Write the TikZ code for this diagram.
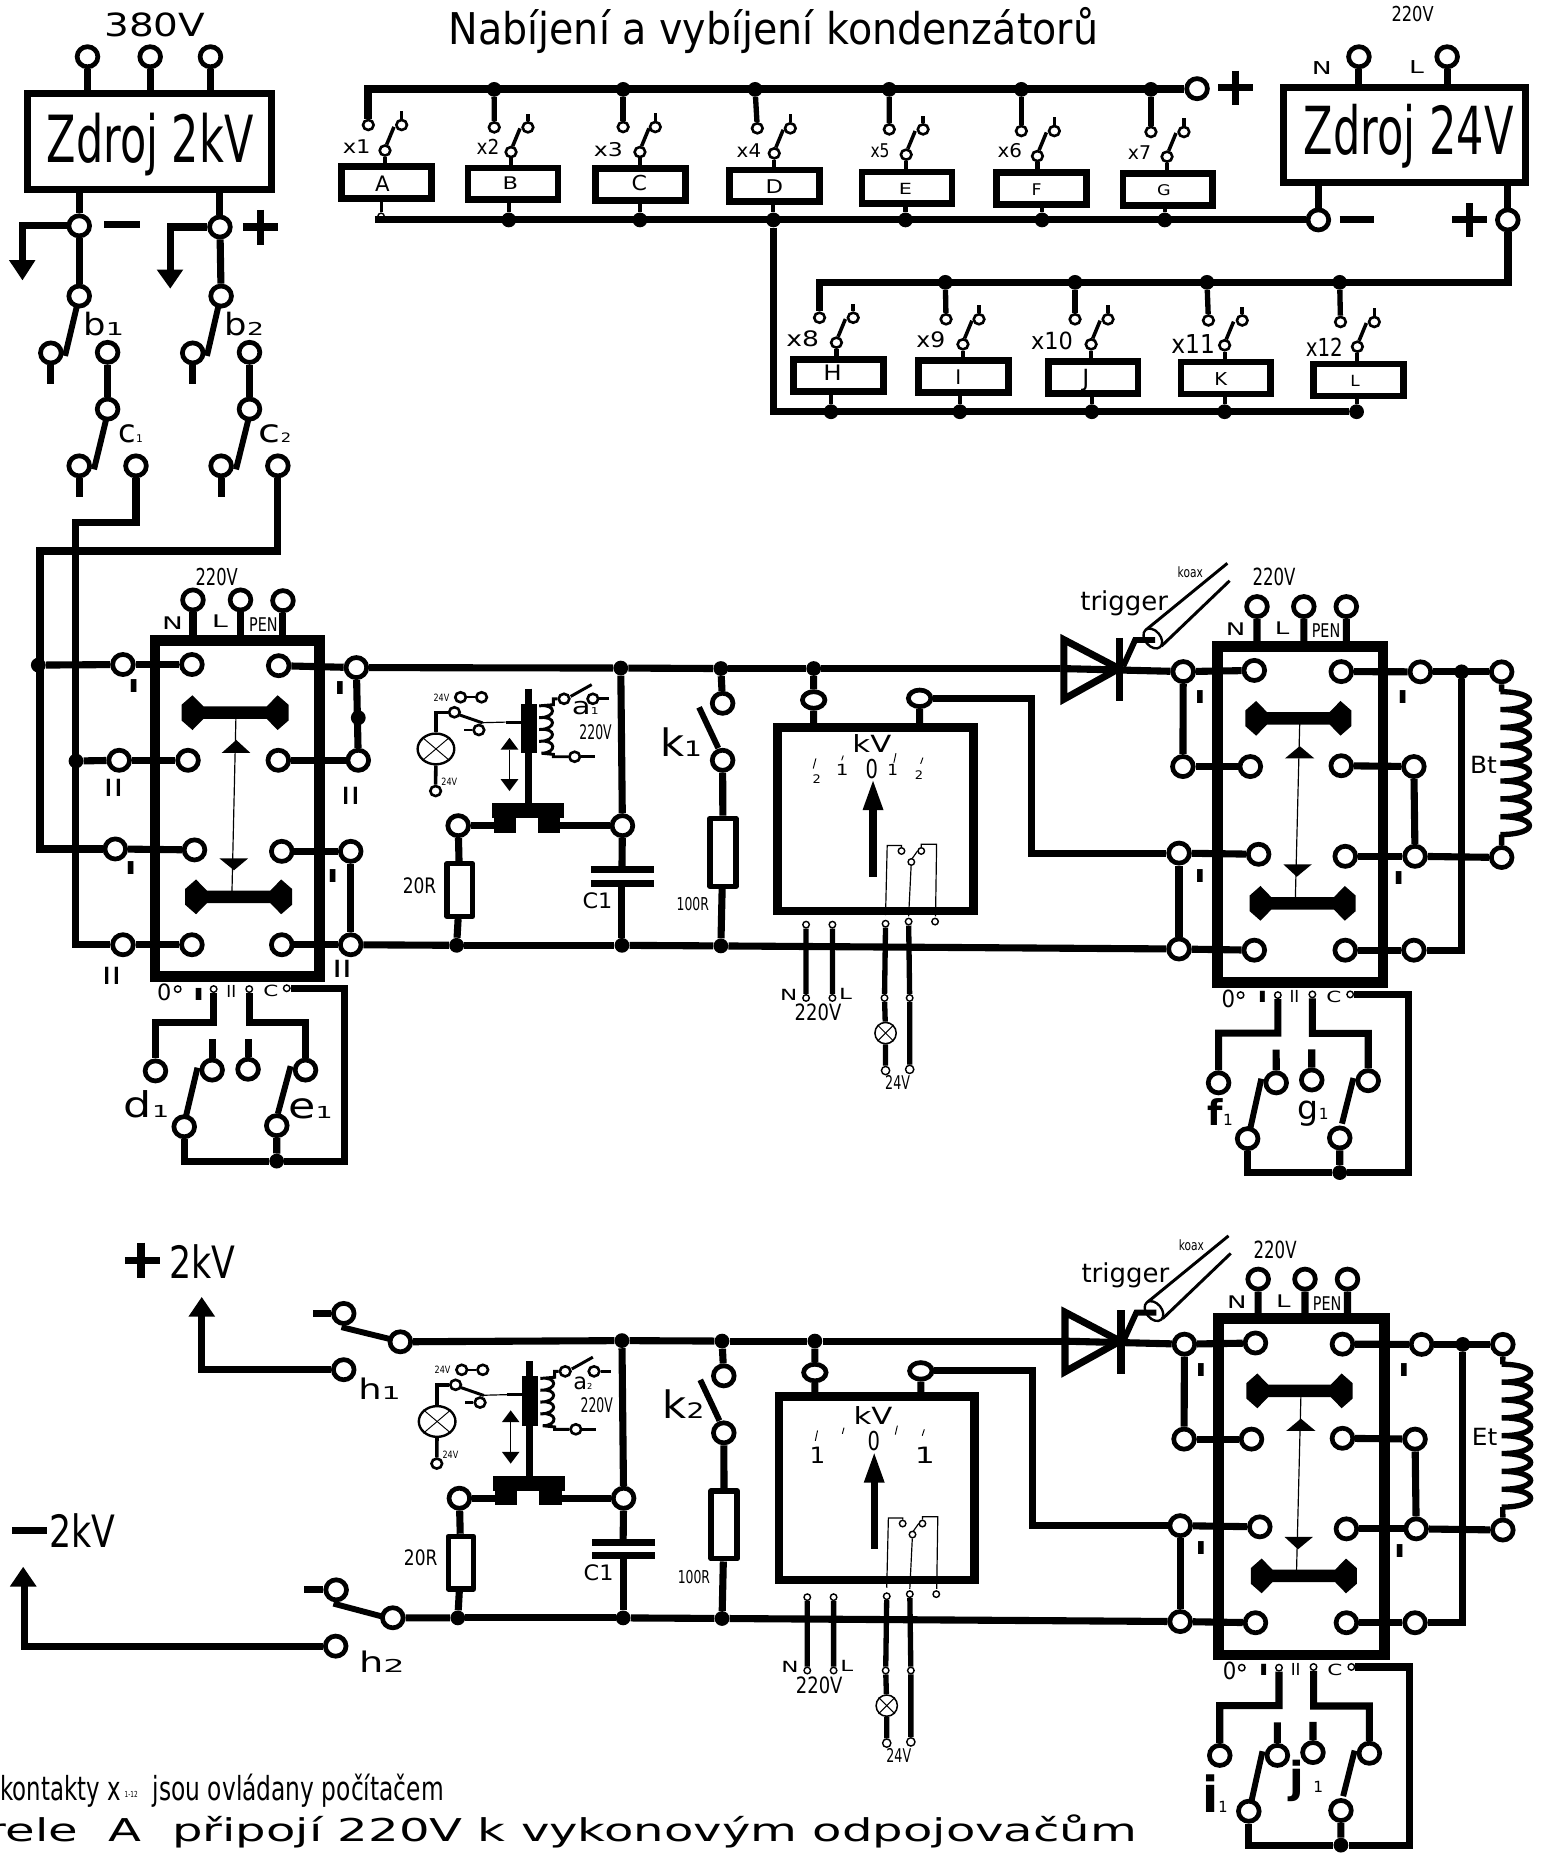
\documentclass[tikz,border=0pt]{standalone}
\usepackage{fontspec}
\setmainfont{DejaVu Sans}
\usepackage{graphicx}
\usetikzlibrary{shapes.geometric}
\newcounter{lb}
\tikzset{
 term/.style={ellipse,draw,fill=white,line width=4pt,inner sep=0pt,minimum width=17.5pt,minimum height=17pt},
 tsm/.style={term,line width=2.2pt,minimum width=9pt,minimum height=8.5pt},
 tiny/.style={term,line width=1.2pt,minimum width=5.5pt,minimum height=5.5pt},
 jdot/.style={circle,fill=black,inner sep=0pt,minimum size=12.5pt},
 wire/.style={line width=6pt},
 wthin/.style={line width=4.5pt},
 wfine/.style={line width=1pt},
 lever/.style={line width=5pt},
 fbox/.style={rectangle,draw,line width=9pt,inner sep=0pt},
 rbox/.style={rectangle,draw,line width=5.7pt,inner sep=0pt,minimum width=76pt,minimum height=27pt},
 rst/.style={rectangle,draw,fill=white,line width=4.5pt,inner sep=0pt,line join=round},
 lamp/.style={ellipse,draw,fill=white,line width=2pt,inner sep=0pt},
 txt/.style={anchor=base,inner sep=0pt},
}
\newcommand\lbl[5]{\stepcounter{lb}\node[txt] (lb\thelb) at (#1,#2) {\fontsize{#3}{#3}\selectfont\scalebox{#4}[1]{#5}};}
\newcommand\low[3]{{\fontsize{#1}{#1}\selectfont\scalebox{#2}[1]{#3}}}
\newcommand\cbar[2]{\fill[shift={(#1,#2)}] (-26.8,-5.3)--(-36,-14.7)--(-45.3,-6.6)--(-45.3,6.6)--(-36,14.7)--(-26.8,5.3)--(26.8,5.3)--(36,14.7)--(45.3,6.6)--(45.3,-6.6)--(36,-14.7)--(26.8,-5.3)--cycle;}
\newcommand\hump[1]{.. controls (1309,#1) and (1309,#1+15.1) .. (1276,#1+15.1)}
\newcommand\stage[5]{%
\begin{scope}[shift={(#2,#3)}]
 \node[term] (#1rT) at (526.4,698.3) {};
 \node[term] (#1rL) at (387.5,698.3) {};
 \node[jdot] (#1dC) at (525,565) {};
 \node[jdot] (#1dCb) at (526,799.5) {};
 \node[jdot] (#1dR) at (386.2,799.5) {};
 \coordinate (#1cL) at (420,698.3);
 \coordinate (#1cR) at (472,698.3);
 \draw[wire] (#1rL) -- (#1cL);
 \draw[wire] (#1cR) -- (#1rT);
 \draw[wire] (#1dC) -- (#1rT);
 \fill (416.3,679.3) rectangle (477.2,692);
 \fill (418,692) rectangle (436.4,704.4);
 \fill (455,692) rectangle (474,704.4);
 \draw[line width=6pt] (447,582.3) -- (447,679.3);
 \fill (440.6,595) rectangle (454.2,636.8);
 \node[tsm] (#1ta) at (477,591) {};
 \node[tsm] (#1tb) at (486,640) {};
 \node[tsm] (#1tc) at (501.4,591) {};
 \draw[line width=2.5pt] (#1ta) -- (468,591) -- (468,596) -- (456,597)
   .. controls (471,595) and (471,607) .. (456,607)
   .. controls (471,605) and (471,617) .. (456,617)
   .. controls (471,615) and (471,627) .. (456,627)
   .. controls (471,625) and (471,637) .. (458,637) -- (468,638) -- (468,640) -- (#1tb);
 \draw[line width=2.5pt] (482.6,589) -- (500.4,579);
 \draw[line width=2.5pt] (#1tc) -- ++(14,0);
 \draw[line width=2.5pt] (#1tb) -- ++(17,0);
 \lbl{503.7}{625.8}{17}{.62}{220V}
 \node[tsm] (#1u1) at (389.5,589.7) {};
 \node[tsm] (#1u2) at (407.3,589.7) {};
 \draw[line width=2pt] (#1u1) -- (#1u2);
 \lbl{373.3}{593}{8.5}{.8}{24V}
 \node[tsm] (#1u3) at (384.3,602.4) {};
 \node[tsm] (#1u4) at (405,617.4) {};
 \draw[line width=2.5pt] (#1u4) -- ++(-12.5,0);
 \draw[line width=2.5pt] (388.8,604.7) -- (408.2,611.4);
 \draw[line width=1pt] (408.2,611.2) -- (427.6,610.7);
 \draw[line width=2.5pt] (427.6,610.7) -- (440.6,610.7);
 \node[lamp,minimum width=31pt,minimum height=26pt] (#1lamp) at (368.7,633.4) {};
 \draw[line width=.8pt] (#1lamp.north west) -- (#1lamp.south east);
 \draw[line width=.8pt] (#1lamp.south west) -- (#1lamp.north east);
 \draw[line width=3pt] (#1u3) -| (#1lamp);
 \node[tsm] (#1u5) at (368.4,669) {};
 \draw[line width=3pt] (#1lamp) -- (#1u5);
 \lbl{380}{664.5}{8.5}{.8}{24V}
 \draw[line width=1.2pt] (430.9,634) -- (430.9,659);
 \fill (430.9,624) -- (423.4,634) -- (438.4,634) -- cycle;
 \fill (430.9,669) -- (423.4,659) -- (438.4,659) -- cycle;
 \node[rst,minimum width=21.5pt,minimum height=44.5pt] (#1R) at (388.8,752.8) {};
 \draw[wire] (#1rL) -- (#1R);
 \draw[wire] (#1R) -- (#1dR);
 \lbl{354.8}{755.5}{18}{.8}{20R}
 \draw[line width=6pt] (499.8,735.5) -- (553.2,735.5);
 \draw[line width=6pt] (499.8,747) -- (553.2,747);
 \draw[wire] (#1rT) -- (526,735.5);
 \draw[wire] (526,747) -- (#1dCb);
 \lbl{505.3}{768}{18}{1.05}{C1}
 \draw[wire] (#1dR) -- (#1dCb);
 \begin{scope}[xshift=5.75pt,xscale=.99]
  \node[jdot] (#1dK) at (610,565.4) {};
  \node[jdot] (#1dM) at (689.3,565.4) {};
  \node[jdot] (#1dKb) at (610,800) {};
  \node[term] (#1k1) at (611.5,594.8) {};
  \node[term] (#1k2) at (611.5,643) {};
  \draw[wire] (#1dK) -- (#1k1);
  \draw[lever] (591.4,598.2) -- (607.8,632.7);
  \node[rst,minimum width=22pt,minimum height=57.5pt] (#1Rk) at (611.8,720.8) {};
  \draw[wire] (#1k2) -- (#1Rk);
  \draw[wire] (#1Rk) -- (#1dKb);
  \lbl{586}{770}{15}{.7}{100R}
  \draw[wire] (#1dC) -- (#1dK);
  \draw[wire] (#1dK) -- (#1dM);
  \draw[wire] (#1dCb) -- (#1dKb);
  % meter
  \node[rectangle,draw,line width=7.5pt,minimum width=165.5pt,minimum height=155pt,inner sep=0pt] (#1M) at (742.2,693+#4) {};
  \node[term,minimum width=19pt,minimum height=14pt] (#1m1) at (689.3,592) {};
  \node[term,minimum width=19pt,minimum height=14pt] (#1m2) at (779.8,590.6) {};
  \draw[wire] (#1dM) -- (#1m1);
  \draw[wire] (#1m1) -- (#1m1 |- #1M.north);
  \draw[wire] (#1m2) -- (#1m2 |- #1M.north);
  \lbl{739}{636.2}{20}{1.3}{kV}
  \fill (740,660.4) -- (731,685.2) -- (749,685.2) -- cycle;
  \draw[line width=6pt] (740,683) -- (740,741.5);
  \node[tiny] (#1i1) at (764.3,719.7) {};
  \node[tiny] (#1i2) at (781.2,719.7) {};
  \node[tiny] (#1i3) at (772.7,729) {};
  \draw[wfine] (#1i1) |- (752.1,715) -- (750.7,774);
  \draw[wfine] (#1i2) |- (794.3,714) -- (793.4,775);
  \draw[wfine] (#1i3) -- (770.4,775);
  \draw[wfine] (773.5,726) -- (778,719.7);
  \node[tiny] (#1b1) at (682.8,782) {};
  \node[tiny] (#1b2) at (705.3,782) {};
  \node[tiny] (#1b3) at (750.7,781.2) {};
  \node[tiny] (#1b4) at (770.4,779.4) {};
  \node[tiny] (#1b5) at (793,779.4) {};
  \node[tiny] (#1c1) at (682.8,844) {};
  \node[tiny] (#1c2) at (705.3,844) {};
  \node[tiny] (#1c3) at (749.8,844) {};
  \node[tiny] (#1c4) at (771.3,844) {};
  \draw[wthin] (#1b1) -- (#1c1);
  \draw[wthin] (#1b2) -- (#1c2);
  \draw[wthin] (#1b3) -- (#1c3);
  \draw[wthin] (#1b4) -- (#1c4);
  \node[lamp,line width=1.3pt,minimum width=18pt,minimum height=18pt] (#1l2) at (750.7,873.7) {};
  \draw[line width=.8pt] (#1l2.north west) -- (#1l2.south east);
  \draw[line width=.8pt] (#1l2.south west) -- (#1l2.north east);
  \node[tiny,minimum width=7pt,minimum height=7pt] (#1c5) at (750.7,905.4) {};
  \node[tiny,minimum width=7pt,minimum height=7pt] (#1c6) at (771.3,904.4) {};
  \draw[wthin] (#1c3) -- (#1l2);
  \draw[wthin] (#1l2) -- (#1c5);
  \draw[wthin] (#1c4) -- (#1c6);
  \lbl{668}{846}{13}{1.5}{N}
  \lbl{716.5}{845}{13}{1.5}{L}
  \lbl{693}{863.3}{19}{.8}{220V}
  \lbl{761}{921.7}{16}{.67}{24V}
  % thyristor
  \draw[line width=6pt,line join=miter] (903,541) -- (903,591.3) -- (950,565.4) -- cycle;
  \draw[line width=6pt] (950.8,539.5) -- (950.8,593);
  \coordinate (#1an) at (900,565.4);
  \draw[wire] (#1dM) -- (#1an);
  \draw[line width=2.5pt] (973.3,532.6) -- (1042.7,476.4);
  \draw[line width=2.5pt] (986.4,546.4) -- (1044.6,491.2);
  \node[ellipse,draw,fill=white,line width=2pt,rotate=40,minimum width=13pt,minimum height=19pt,inner sep=0pt] (#1cx) at (979,540) {};
  \draw[line width=5pt] (953.6,563.7) -- (963.9,541.3) -- (981,541.3);
  \lbl{954.6}{516}{22}{1}{trigger}
  \lbl{1011}{488.5}{12}{.75}{koax}
  \lbl{1082.5}{495.4}{20}{.7}{220V}
  % right switch
  \node[fbox,minimum width=140pt,minimum height=284.5pt] (#1S) at (1105,688.75) {};
  \node[term] (#1s1) at (1065.7,567) {};
  \node[term] (#1s2) at (1140,568) {};
  \node[term] (#1s3) at (1062.3,648.3) {};
  \node[term] (#1s4) at (1140,647.6) {};
  \node[term] (#1s5) at (1069.4,722.5) {};
  \node[term] (#1s6) at (1143.4,724.2) {};
  \node[term] (#1s7) at (1065.7,803.6) {};
  \node[term] (#1s8) at (1143.4,803.6) {};
  \node[term] (#1o1) at (1005,568) {};
  \node[term] (#1o2) at (1004.7,648.3) {};
  \node[term] (#1o3) at (1001.4,721.5) {};
  \node[term] (#1o4) at (1001.4,802.6) {};
  \node[term] (#1p1) at (1207.6,568.2) {};
  \node[term] (#1p2) at (1202,648.3) {};
  \node[term] (#1p3) at (1203,724.2) {};
  \node[term] (#1p4) at (1202,803.6) {};
  \node[term] (#1q1) at (1277,568.2) {};
  \node[term] (#1q2) at (1277,725.2) {};
  \node[jdot] (#1dQ) at (1242.8,568.2) {};
  \draw[wire] (#1an) -- (#1o1);
  \draw[wire] (#1o1) -- (#1s1);
  \draw[wire] (#1o2) -- (#1s3);
  \draw[wire] (#1o3) -- (#1s5);
  \draw[wire] (#1o4) -- (#1s7);
  \draw[wire] (#1s2) -- (#1p1);
  \draw[wire] (#1s4) -- (#1p2);
  \draw[wire] (#1s6) -- (#1p3);
  \draw[wire] (#1s8) -- (#1p4);
  \draw[wire] (#1o1) -- (#1o2);
  \draw[wire] (#1o3) -- (#1o4);
  \draw[wire] (#1p2) -- (#1p3);
  \draw[wire] (#1p1) -- (#1q1);
  \draw[wire] (#1p3) -- (#1q2);
  \draw[wire] (#1dQ) |- (#1p4);
  \draw[wire] (#1m2) -| (875,721.5) -- (#1o3);
  \draw[wire] (#1dKb) -- (#1o4);
  \draw[line width=4.5pt] (#1q1) -- (1277,585) -- (1276,585)
    \hump{585} \hump{600.1} \hump{615.2} \hump{630.3} \hump{645.4} \hump{660.5} \hump{675.6} \hump{690.7}
    -- (1277,705.8) -- (#1q2);
  \lbl{1261.5}{654.1}{20}{1.05}{#5}
  \cbar{1103.3}{607.5}
  \cbar{1107}{764}
  \draw[wfine] (1104.5,612) -- (1100.8,759);
  \fill (1091.9,641.4) -- (1117,641.4) -- (1104.5,631) -- cycle;
  \fill (1090.5,731) -- (1114.8,731) -- (1102,741.5) -- cycle;
  \node[term] (#1v1) at (1068,513) {};
  \node[term] (#1v2) at (1108,513) {};
  \node[term] (#1v3) at (1144.3,513) {};
  \draw[wire] (#1v1) -- (#1v1 |- #1S.north);
  \draw[wire] (#1v2) -- (#1v2 |- #1S.north);
  \draw[wire] (#1v3) -- (#1v3 |- #1S.north);
  \lbl{1049.7}{537.8}{14.7}{1.5}{N}
  \lbl{1089.5}{537}{14.7}{1.5}{L}
  \lbl{1127}{539.5}{16}{.76}{PEN}
  \lbl{1019.2}{595}{15}{1.7}{\bfseries I}
  \lbl{1019.2}{746}{15}{1.7}{\bfseries I}
  \lbl{1192.6}{595}{15}{1.7}{\bfseries I}
  \lbl{1189}{748}{15}{1.7}{\bfseries I}
  \lbl{1043.6}{852}{20}{.9}{0}
  \lbl{1072.7}{848}{13}{1.7}{\bfseries I}
  \lbl{1100}{848}{14}{1}{II}
  \lbl{1133.6}{848}{13}{1.4}{C}
  \node[tiny] (#1g0) at (1054,841.6) {};
  \node[tiny] (#1g1) at (1085.8,841.6) {};
  \node[tiny] (#1g2) at (1115.3,841) {};
  \node[tiny] (#1g3) at (1147.6,841) {};
  \node[term] (#1h1) at (1035.2,915.8) {};
  \node[term] (#1h2) at (1084.4,915.8) {};
  \node[term] (#1h3) at (1114.8,913.4) {};
  \node[term] (#1h4) at (1163,914) {};
  \node[term] (#1h5) at (1060,963) {};
  \node[term] (#1h6) at (1138.7,962.4) {};
  \node[jdot] (#1dH) at (1138.7,991.7) {};
  \coordinate (#1cg) at (1197.3,991.7);
  \draw[wire] (#1g1) -- (1085.8,873.7) -| (#1h1);
  \draw[wire] (#1g2) -- (1115.3,874) -| (#1h4);
  \draw[wire] (#1h2) -- ++(0,-28);
  \draw[wire] (#1h3) -- ++(0,-26);
  \draw[lever] (1062.4,953.8) -- (1071.7,912.3);
  \draw[lever] (1140.6,950.3) -- (1150.4,911.7);
  \draw[wire] (#1h5) |- (#1dH);
  \draw[wire] (#1h6) -- (#1dH);
  \draw[wire] (#1dH) -- (#1cg) |- (#1g3);
 \end{scope}
\end{scope}}
\begin{document}
\begin{tikzpicture}[x=1pt,y=-1pt]
\fill[white] (0,0) rectangle (1305,1568);
\useasboundingbox (0,0) rectangle (1305,1568);
% ---------- Zdroj 2kV
\lbl{131}{31}{27}{1.22}{380V}
\node[term] (sa) at (74,48) {};
\node[term] (sb) at (127,48) {};
\node[term] (sc) at (178,48) {};
\node[rectangle,draw,line width=6pt,minimum width=206.7pt,minimum height=80.7pt,inner sep=0pt] (Z2) at (126.6,119.6) {};
\foreach \n in {sa,sb,sc} {\draw[wire] (\n) -- (\n |- Z2.north);}
\lbl{127}{137.5}{55}{.66}{Zdroj 2kV}
\node[term] (mi) at (67,191) {};
\node[term] (pl) at (186,192) {};
\draw[wire] (mi) -- (mi |- Z2.south);
\draw[wire] (pl) -- (pl |- Z2.south);
\draw[line width=6pt] (88,190) -- (118,190);
\draw[line width=6pt] (205.5,192) -- (235.4,192);
\draw[line width=6pt] (220.5,177.6) -- (220.5,207);
\coordinate (a1) at (19,222);
\coordinate (a2) at (144,230);
\draw[wire] (mi) -| (a1);
\draw[wire] (pl) -| (a2);
\fill (7.6,220) -- (30,220) -- (19,237) -- cycle;
\fill (132.5,228) -- (155,228) -- (144,244) -- cycle;
\node[term] (b1) at (67,250.4) {};
\node[term] (b2) at (187,250.4) {};
\draw[wire] (mi) -- (b1);
\draw[wire] (pl) -- (b2);
\draw[lever] (65,259) -- (55,301);
\draw[lever] (184.7,259) -- (175,301);
\node[term] (b3) at (43,298.5) {};
\node[term] (b4) at (163,298.5) {};
\draw[wire] (b3) -- ++(0,26);
\draw[wire] (b4) -- ++(0,26);
\node[term] (c1) at (91,298) {};
\node[term] (c2) at (211,298) {};
\node[term] (c3) at (91,346) {};
\node[term] (c4) at (211,346) {};
\draw[wire] (c1) -- (c3);
\draw[wire] (c2) -- (c4);
\draw[lever] (89.7,355) -- (79.5,397);
\draw[lever] (210,355) -- (199.6,397);
\node[term] (c5) at (67,394) {};
\node[term] (c6) at (187,394) {};
\draw[wire] (c5) -- ++(0,26);
\draw[wire] (c6) -- ++(0,26);
\node[term] (c7) at (115,394) {};
\node[term] (c8) at (235,394) {};
\lbl{87.7}{284}{26}{1.15}{b\low{15}{1.4}{1}}
\lbl{206.6}{284}{26}{1.15}{b\low{15}{1.3}{2}}
\lbl{110.6}{374}{27}{1}{c\low{9}{1}{1}}
\lbl{232.6}{374}{27}{1.25}{c\low{11}{1}{2}}
% ---------- left switch
\node[fbox,minimum width=139pt,minimum height=284.5pt] (LS) at (200.5,683.75) {};
\node[term] (i1) at (162.3,562) {};
\node[term] (i2) at (235.7,563) {};
\node[term] (i3) at (159,643) {};
\node[term] (i4) at (235.4,643) {};
\node[term] (i5) at (164.5,718.8) {};
\node[term] (i6) at (238.3,720) {};
\node[term] (i7) at (162.3,799) {};
\node[term] (i8) at (238.3,799) {};
\node[term] (e1) at (104,562) {};
\node[term] (e2) at (100.8,643) {};
\node[term] (e3) at (97.5,718) {};
\node[term] (e4) at (104,799) {};
\node[term] (f1) at (301.4,564.6) {};
\node[term] (f2) at (303,643) {};
\node[term] (f3) at (296.6,720) {};
\node[term] (f4) at (296.6,799) {};
\node[jdot] (fd) at (303,607) {};
\node[jdot] (ld1) at (32.4,562.5) {};
\node[jdot] (ld2) at (64.3,643.6) {};
\coordinate (cn1) at (64,442);
\coordinate (cn2) at (33.8,466);
\coordinate (cn3) at (64,799);
\coordinate (cn4) at (33.8,718);
\foreach \a/\b in {e1/i1,e2/i3,e3/i5,e4/i7,i2/f1,i4/f2,i6/f3,i8/f4,f1/f2,f3/f4,ld1/e1,ld2/e2} {\draw[wire] (\a) -- (\b);}
\draw[wire] (c7) |- (cn1) -- (cn3) -- (e4);
\draw[wire] (c8) |- (cn2) -- (cn4) -- (e3);
\cbar{198.8}{602.7}
\cbar{201.8}{758.5}
\draw[wfine] (199.5,608) -- (196.2,753.5);
\fill (187.5,636.8) -- (211.8,636.8) -- (199.8,625.8) -- cycle;
\fill (185.6,726) -- (209.8,726) -- (197.9,736) -- cycle;
\node[term] (t1) at (163.2,507.4) {};
\node[term] (t2) at (203.4,507.4) {};
\node[term] (t3) at (239.3,508) {};
\foreach \n in {t1,t2,t3} {\draw[wire] (\n) -- (\n |- LS.north);}
\lbl{183.3}{495.3}{19.7}{.7}{220V}
\lbl{146}{532.8}{14.7}{1.6}{N}
\lbl{186}{531}{14.7}{1.66}{L}
\lbl{222.8}{533.8}{16}{.76}{PEN}
\lbl{113}{586}{15}{1.7}{\bfseries I}
\lbl{96}{674}{20}{1.4}{II}
\lbl{110.5}{740}{15}{1.7}{\bfseries I}
\lbl{94.4}{833}{20}{1.4}{II}
\lbl{287.5}{587}{15}{1.7}{\bfseries I}
\lbl{296.6}{680}{20}{1.4}{II}
\lbl{281.4}{746}{15}{1.7}{\bfseries I}
\lbl{289.4}{827}{20}{1.4}{II}
\lbl{139}{846.5}{19}{1}{0}
\lbl{168}{846}{14}{1.8}{\bfseries I}
\lbl{195.6}{844}{14}{1}{II}
\lbl{229}{843}{13}{1.4}{C}
\node[tiny] (g0) at (150.3,836.5) {};
\node[tiny] (g1) at (180.7,836.5) {};
\node[tiny] (g2) at (210.8,836.5) {};
\node[tiny] (g3) at (242.5,835.8) {};
\node[term] (d1) at (131.5,905.7) {};
\node[term] (d2) at (179.4,905) {};
\node[term] (d3) at (209.8,904.3) {};
\node[term] (d4) at (258.4,905) {};
\node[term] (d5) at (155.8,952.9) {};
\node[term] (d6) at (234.1,952) {};
\node[jdot] (dd) at (234,982) {};
\coordinate (dc) at (291.7,982);
\draw[wire] (g1) -- (180.7,865) -| (d1);
\draw[wire] (g2) -- (210.8,865) -| (d4);
\draw[wire] (d2) -- ++(0,-26);
\draw[wire] (d3) -- ++(0,-26);
\draw[lever] (157.4,943.5) -- (167,903);
\draw[lever] (235,941.8) -- (245.8,901.7);
\draw[wire] (d5) |- (dd);
\draw[wire] (d6) -- (dd);
\draw[wire] (dd) -- (dc) |- (g3);
\lbl{124}{945}{30}{1.25}{d\low{14}{1.3}{1}}
\lbl{262.6}{946}{30}{1.25}{e\low{14}{1.3}{1}}
% ---------- stages
\stage{U}{0}{0}{0}{Bt}
\draw[wire] (f1) -- (UdC);
\draw[wire] (f4) -- (UdR);
\lbl{495}{604.5}{20}{1.3}{a\low{8}{1}{1}}
\lbl{576}{640}{32}{1.1}{k\low{18}{1.2}{1}}
\stage{W}{1}{568.8}{-3}{Et}
\lbl{493}{1175.3}{19}{1}{a\low{7}{1}{2}}
\lbl{578}{1200}{32}{1.1}{k\low{18}{1.2}{2}}
\begin{scope}[xshift=5.75pt,xscale=.99]
 % upper scale
 \foreach \a/\b/\c/\d in {691.2/641.4/688.9/650,714.6/639/713.2/643,759.6/637/757.8/645,782.6/640.7/780.7/646}{\draw[line width=.8pt] (\a,\b) -- (\c,\d);}
 \lbl{692}{662.8}{10}{1.1}{2}
 \lbl{713.7}{655.9}{13}{1.3}{1}
 \lbl{739}{658.6}{22}{.75}{0}
 \lbl{756.8}{655.9}{13}{1.1}{1}
 \lbl{779.3}{659.3}{10}{1.1}{2}
 % lower scale
 \foreach \a/\b/\c/\d in {692.6/1209.8/690.7/1218.5,715.2/1207.4/713.8/1212.6,760.8/1205.7/759/1213.3,783.8/1208.8/782/1214.3}{\draw[line width=.8pt] (\a,\b) -- (\c,\d);}
 \lbl{692.6}{1237.6}{19}{1.1}{1}
 \lbl{740.6}{1226.5}{22}{.75}{0}
 \lbl{784.3}{1237.6}{19}{1.4}{1}
 % function labels
 \lbl{1036.6}{952}{30}{1}{\bfseries f\low{13}{1}{\mdseries 1}}
 \lbl{1116}{947}{28}{1}{g\low{13}{1}{1}}
 \lbl{1032}{1533}{42}{.95}{\bfseries i\low{13}{1}{\mdseries 1}}
 \lbl{1110}{1516}{36}{1}{\bfseries j\low{13}{1}{\mdseries\ \ 1}}
\end{scope}
% ---------- h contacts and 2 kV
\draw[line width=6.5pt] (105.7,1066) -- (135,1066);
\draw[line width=6.5pt] (119.5,1051) -- (119.5,1081);
\lbl{171.4}{1081.2}{37.7}{.78}{2kV}
\draw[line width=6.5pt] (10.2,1294.5) -- (39.6,1294.5);
\lbl{69.8}{1308.6}{37.7}{.78}{2kV}
\node[term] (h1a) at (290.7,1110.8) {};
\node[term] (h1b) at (290.7,1158.4) {};
\node[term] (h1c) at (338.6,1134.8) {};
\draw[wire] (h1a) -- ++(-26.4,0);
\draw[lever] (288.8,1122.4) -- (332,1133);
\coordinate (pa) at (170.6,1110);
\draw[wire] (h1b) -| (pa);
\fill (170.6,1097) -- (159.3,1113.6) -- (182,1113.6) -- cycle;
\draw[wire] (h1c) -- (WdC);
\lbl{321}{1183.5}{24}{1.3}{h\low{15}{1.3}{1}}
\node[term] (h2a) at (284.3,1344.6) {};
\node[term] (h2b) at (283.9,1392.2) {};
\node[term] (h2c) at (332.2,1368.2) {};
\draw[wire] (h2a) -- ++(-26.8,0);
\draw[lever] (282,1356.2) -- (324.6,1367.5);
\coordinate (pb) at (20.8,1338);
\draw[wire] (h2b) -| (pb);
\fill (19.6,1325.2) -- (8.3,1341.8) -- (31,1341.8) -- cycle;
\draw[wire] (h2c) -- (WdR);
\lbl{323}{1414.4}{24}{1.35}{h\low{15}{1.4}{2}}
% ---------- notes
\node[txt,anchor=base west] (nk) at (0,1522.7) {\fontsize{28}{28}\selectfont\scalebox{.69}[1]{kontakty x}};
\lbl{111}{1520}{7}{.7}{1-12}
\node[txt,anchor=base west] (nj) at (129,1522.7) {\fontsize{28}{28}\selectfont\scalebox{.705}[1]{jsou ovládany počítačem}};
\node[txt,anchor=base east] (nr) at (962,1557) {\fontsize{26.6}{26.6}\selectfont\scalebox{1.53}[1]{rele\ \ A\ \ připojí 220V k vykonovým odpojovačům}};
% ---------- title and 24V supply
\lbl{654}{38}{37}{.905}{Nabíjení a vybíjení kondenzátorů}
\node[rectangle,draw,line width=6pt,minimum width=205pt,minimum height=80pt,inner sep=0pt] (Z24) at (1187.9,114.3) {};
\lbl{1191.5}{131}{56}{.65}{Zdroj 24V}
\node[term] (zn) at (1149.3,48) {};
\node[term] (zl) at (1223.9,48) {};
\draw[wire] (zn) -- (zn |- Z24.north);
\draw[wire] (zl) -- (zl |- Z24.north);
\lbl{1118}{62.6}{15}{1.5}{N}
\lbl{1198}{62}{15}{1.5}{L}
\lbl{1194.7}{18.3}{17.4}{.79}{220V}
\node[term] (tp) at (1012.4,75) {};
\draw[line width=6pt] (1030.5,74.1) -- (1059.7,74.1);
\draw[line width=6pt] (1044.8,59.8) -- (1044.8,88.8);
\node[term] (tm) at (1115,186) {};
\node[term] (tq) at (1275.2,186) {};
\draw[wire] (tm) -- (tm |- Z24.south);
\draw[wire] (tq) -- (tq |- Z24.south);
\draw[line width=6pt] (1133,186) -- (1162,186);
\draw[line width=6pt] (1228.4,185.5) -- (1257.7,185.5);
\draw[line width=6pt] (1242.7,172) -- (1242.7,200.7);
% units
\foreach \i/\lx/\ly/\rx/\wx/\wy/\bx/\by in {
 1/311.5/105.7/339.7/325.6/127.3/327/154.6,
 2/418/107.7/446.5/432.2/128.6/433.85/155.5,
 3/527/107.4/554.2/541.2/128.6/541.9/156,
 4/640.5/108.5/668.4/654.8/129.7/655.15/157.2,
 5/752.1/109.4/780.7/766.4/130.8/767.1/158.9,
 6/863.8/110.8/891.7/877.4/132/881/159.3,
 7/973.4/111.6/1001.3/987/132.5/987.7/160.5,
 8/693.1/268.7/721.6/707.4/289.8/709/317.3,
 9/800.1/270/828/814.4/291.2/814.8/318.2,
 10/909.2/270/937.1/922.8/291.2/924.5/319,
 11/1022/271/1050.6/1035.7/292/1036.7/319.7,
 12/1133.7/272.3/1162.3/1148/293.2/1149/321.4}{
 \node[tsm] (lt\i) at (\lx,\ly) {};
 \node[tsm] (rt\i) at (\rx,\ly) {};
 \node[tsm] (wt\i) at (\wx,\wy) {};
 \node[rbox] (bx\i) at (\bx,\by) {};
 \draw[line width=3.5pt] (wt\i) -- (wt\i |- bx\i.north);
 \draw[line width=3pt] (rt\i) -- ++(0,-11.7);
 \draw[line width=3pt] (\wx+1.4,\wy-5) -- (\wx+7.6,\wy-20);
}
\foreach \i/\x in {2/417.9,3/527,4/638.6,5/752,6/863.8,7/973.4}{
 \node[jdot] (td\i) at (\x,75.6) {};
 \draw[wthin] (td\i) -- (lt\i);
}
\foreach \i/\x in {9/799.5,10/909.2,11/1020.8,12/1133}{
 \node[jdot] (td\i) at (\x,238.8) {};
 \draw[wthin] (td\i) -- (lt\i);
}
\foreach \i/\x in {2/430.3,3/541.2,4/654.1,5/765.8,6/881.3,7/985.1}{
 \node[jdot] (bd\i) at (\x,186) {};
 \draw[line width=3.5pt] (bd\i) -- (bd\i |- bx\i.south);
}
\foreach \i/\x in {8/702.8,9/811.8,10/923.4,11/1035.7,12/1147.3}{
 \node[jdot] (bd\i) at (\x,348.2) {};
 \draw[line width=3.5pt] (bd\i) -- (bd\i |- bx\i.south);
}
\node[tiny] (ha) at (322.3,183) {};
\draw[line width=2.5pt] (ha) -- (ha |- bx1.south);
\coordinate (bs) at (317,186);
\draw[wire] (bs) -- (tm);
\draw[line width=7pt] (tp) -| (lt1);
\coordinate (cc) at (1275.2,238.8);
\coordinate (cd) at (693.1,238.8);
\draw[line width=6.5pt] (tq) -- (cc) -- (cd) -- (lt8);
\draw[wire] (bd4) |- (bd12);
\foreach \x/\y/\s/\k/\t in {
 301.7/129.6/16/1.2/x1, 412.7/131/17.4/.9/x2, 514.6/132.5/16/1.25/x3, 633.4/133/16/1.05/x4,
 744.3/133/16/.82/x5, 854/133/16/1.05/x6, 963.7/134.8/16/1/x7,
 678.8/293.2/18/1.25/x8, 787.2/293.8/18/1.1/x9, 889.7/296/20/.95/x10, 1009.1/298.8/22/.9/x11, 1120/301.7/21/.8/x12,
 323.4/161.6/18/1/A, 431.6/160/14.7/1.3/B, 540.6/161.3/17.4/1.07/C, 654.8/163.5/16/1.2/D,
 765.8/164.4/13/1.35/E, 876.7/165/13.6/1.08/F, 984.4/165/12.4/1.2/G,
 704.1/322/18/1.15/H, 810.5/325.6/17/1/I, 918.3/327/20/1/J, 1032.5/326.2/15/1.1/K, 1146/327/13/1.1/L}{
 \lbl{\x}{\y}{\s}{\k}{\t}
}
\end{tikzpicture}
\end{document}
